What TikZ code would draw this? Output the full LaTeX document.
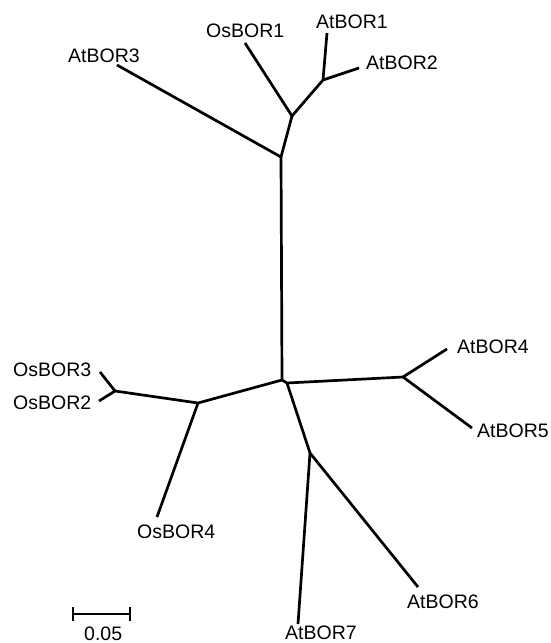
\documentclass[tikz,border=0pt]{standalone}
\usepackage{fontspec}
\setmainfont{Liberation Sans}
\begin{document}
\begin{tikzpicture}[x=1pt,y=-1pt,
  branch/.style={line width=2.7pt,line join=round},
  leaflabel/.style={anchor=base west,inner sep=0pt,font=\fontsize{19.5}{22}\selectfont}]
\useasboundingbox (0,0) rectangle (551,643);
% internal nodes
\coordinate (A) at (281,157);
\coordinate (B) at (292,116);
\coordinate (C) at (323,80);
\coordinate (D) at (282,380);
\coordinate (E) at (287,383);
\coordinate (F) at (403,377);
\coordinate (G) at (310,453);
\coordinate (H) at (115,391);
\coordinate (I) at (198,403);
% leaf ends
\coordinate (l1) at (245,43);
\coordinate (l2) at (327,33);
\coordinate (l3) at (359,68);
\coordinate (l4) at (117,65);
\coordinate (l5) at (447,349);
\coordinate (l6) at (472,428);
\coordinate (l7) at (418,587);
\coordinate (l8) at (298,624);
\coordinate (l9) at (157,517);
\coordinate (l10) at (100,372);
\coordinate (l11) at (99,401);
% branches
\draw[branch] (l4) -- (A) -- (B) -- (l1);
\draw[branch] (B) -- (C) -- (l2);
\draw[branch] (C) -- (l3);
\draw[branch] (A) -- (D) -- (E) -- (F) -- (l5);
\draw[branch] (F) -- (l6);
\draw[branch] (E) -- (G) -- (l7);
\draw[branch] (G) -- (l8);
\draw[branch] (D) -- (I) -- (H) -- (l10);
\draw[branch] (H) -- (l11);
\draw[branch] (I) -- (l9);
% labels
\node[leaflabel] (n1) at (206,37) {OsBOR1};
\node[leaflabel] (n2) at (316,28) {AtBOR1};
\node[leaflabel] (n3) at (366,69) {AtBOR2};
\node[leaflabel] (n4) at (68,62) {AtBOR3};
\node[leaflabel] (n5) at (457,353) {AtBOR4};
\node[leaflabel] (n6) at (477,437) {AtBOR5};
\node[leaflabel] (n7) at (407,608) {AtBOR6};
\node[leaflabel] (n8) at (285,639) {AtBOR7};
\node[leaflabel] (n9) at (137,538) {OsBOR4};
\node[leaflabel] (n10) at (13,376) {OsBOR3};
\node[leaflabel] (n11) at (13,409) {OsBOR2};
% scale bar
\coordinate (s1) at (73,614);
\coordinate (s2) at (130,614);
\draw[line width=2.4pt] (s1) -- (s2);
\draw[line width=2.4pt] ([yshift=-7pt]s1) -- ([yshift=7pt]s1);
\draw[line width=2.4pt] ([yshift=-7pt]s2) -- ([yshift=7pt]s2);
\node[leaflabel] (sl) at (84,640) {0.05};
\end{tikzpicture}
\end{document}
